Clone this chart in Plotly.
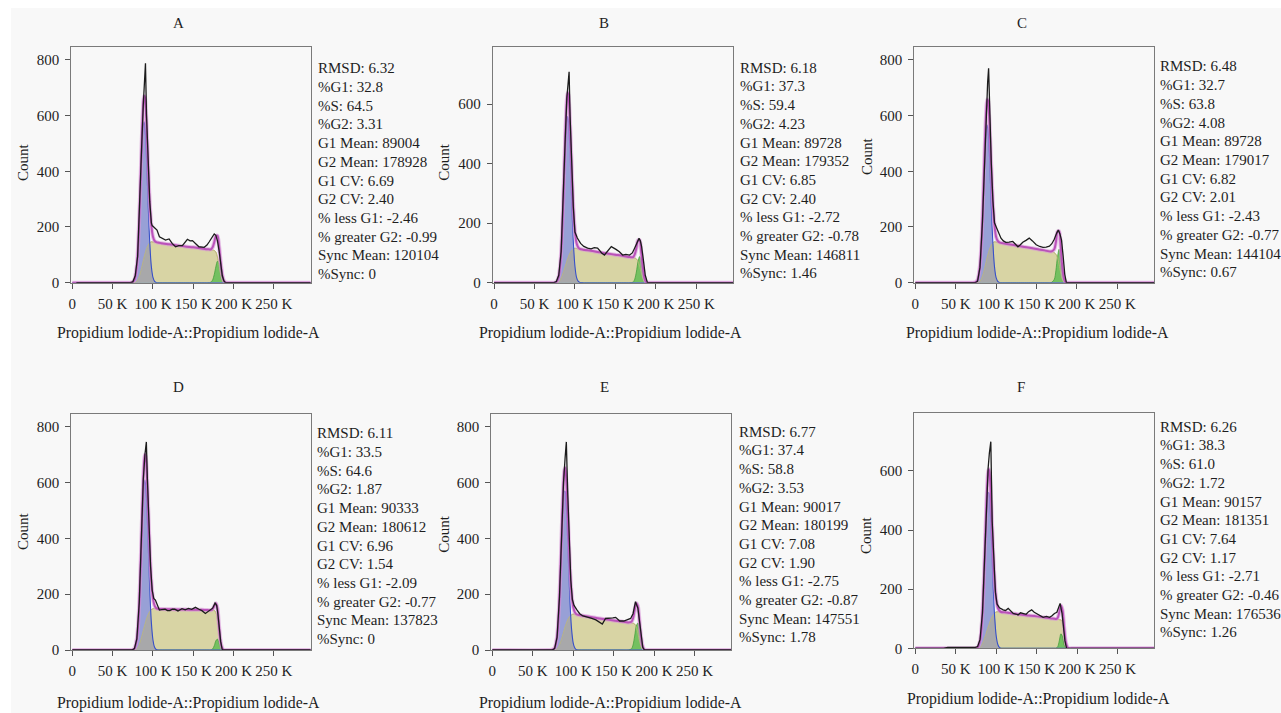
import numpy as np
import plotly.graph_objects as go

W, H = 1281, 713          # target picture size
H_FIG = 721               # the page is captured 721 px tall and fitted into 713
FONT = "Liberation Serif"

# ---------------- data (x in thousands of channel units) ----------------
x_grid = [0, 70, 74, 77, 80, 82, 84, 86, 87, 88, 89, 90, 91, 92, 94, 96, 98, 100, 102, 104,
          106, 110, 120, 130, 140, 150, 160, 168, 172, 174, 176, 178, 180, 182, 184, 186, 188, 190, 195, 296]

g1_A = [0, 0, 1, 10, 58, 144, 284, 448, 516, 562, 578, 562, 516, 448, 284, 144, 58, 19, 5, 1,
        0, 0, 0, 0, 0, 0, 0, 0, 0, 0, 0, 0, 0, 0, 0, 0, 0, 0, 0, 0]
g1_B = [0, 0, 0, 2, 18, 56, 139, 275, 355, 432, 498, 542, 558, 542, 432, 275, 139, 56, 18, 5,
        1, 0, 0, 0, 0, 0, 0, 0, 0, 0, 0, 0, 0, 0, 0, 0, 0, 0, 0, 0]
g1_C = [0, 0, 1, 10, 57, 141, 278, 439, 505, 550, 566, 550, 505, 439, 278, 141, 57, 18, 5, 1,
        0, 0, 0, 0, 0, 0, 0, 0, 0, 0, 0, 0, 0, 0, 0, 0, 0, 0, 0, 0]
g1_D = [0, 0, 0, 5, 36, 99, 220, 387, 472, 544, 592, 609, 592, 544, 387, 220, 99, 36, 10, 2,
        0, 0, 0, 0, 0, 0, 0, 0, 0, 0, 0, 0, 0, 0, 0, 0, 0, 0, 0, 0]
g1_E = [0, 0, 1, 7, 44, 116, 243, 405, 480, 537, 569, 569, 537, 480, 323, 173, 74, 25, 7, 1,
        0, 0, 0, 0, 0, 0, 0, 0, 0, 0, 0, 0, 0, 0, 0, 0, 0, 0, 0, 0]
g1_F = [0, 0, 0, 3, 23, 68, 160, 298, 375, 444, 497, 526, 526, 497, 375, 225, 108, 41, 13, 3,
        0, 0, 0, 0, 0, 0, 0, 0, 0, 0, 0, 0, 0, 0, 0, 0, 0, 0, 0, 0]

s_A = [0, 0, 0, 0, 5, 15, 32, 55, 67, 80, 92, 103, 113, 122, 135, 143, 147, 146, 145, 145,
       144, 142, 138, 134, 130, 127, 123, 120, 118, 117, 116, 110, 92, 62, 30, 10, 2, 0, 0, 0]
s_B = [0, 0, 0, 0, 3, 10, 22, 38, 46, 55, 63, 72, 80, 88, 100, 108, 113, 116, 115, 114,
       113, 111, 107, 102, 98, 94, 90, 86, 84, 83, 80, 72, 55, 33, 15, 4, 0, 0, 0, 0]
s_C = [0, 0, 0, 0, 5, 15, 32, 55, 67, 80, 92, 103, 113, 122, 135, 143, 147, 146, 145, 144,
       143, 141, 136, 131, 126, 121, 116, 112, 108, 102, 90, 65, 35, 12, 3, 0, 0, 0, 0, 0]
s_D = [0, 0, 0, 0, 4, 12, 28, 48, 59, 70, 81, 92, 102, 112, 127, 138, 145, 148, 149, 148,
       148, 147, 146, 145, 145, 144, 144, 143, 143, 143, 142, 135, 110, 60, 20, 5, 0, 0, 0, 0]
s_E = [0, 0, 0, 0, 4, 12, 26, 44, 54, 64, 74, 84, 92, 100, 113, 121, 126, 129, 128, 127,
       126, 124, 119, 114, 110, 106, 102, 99, 97, 96, 93, 82, 60, 32, 12, 3, 0, 0, 0, 0]
s_F = [0, 0, 0, 0, 3, 10, 22, 38, 46, 55, 63, 72, 80, 88, 102, 112, 119, 123, 124, 124,
       123, 122, 118, 114, 111, 108, 104, 101, 100, 99, 98, 97, 96, 90, 60, 20, 4, 0, 0, 0]

g2_A = [0] * 27 + [0, 2, 10, 29, 57, 77, 70, 43, 18, 5, 1, 0, 0]
g2_B = [0] * 27 + [0, 2, 12, 36, 70, 88, 70, 36, 12, 2, 0, 0, 0]
g2_C = [0] * 27 + [0, 12, 43, 93, 120, 93, 43, 12, 2, 0, 0, 0, 0]
g2_D = [0] * 27 + [0, 0, 4, 15, 33, 39, 24, 8, 1, 0, 0, 0, 0]
g2_E = [0] * 27 + [0, 4, 18, 50, 86, 97, 69, 32, 9, 2, 0, 0, 0]
g2_F = [0] * 27 + [0, 0, 0, 5, 25, 49, 39, 12, 2, 0, 0, 0, 0]

raw_x_A = [5, 72, 75, 78, 81, 84, 86, 88, 89.5, 90.7, 92, 94, 96, 98, 99, 101, 105, 108, 112, 115.6,
           120, 124, 128, 132, 136.5, 140, 142.7, 146, 149, 153, 157, 163.5, 167, 169.8, 173, 176,
           178, 180, 182, 184, 186, 188, 190, 296]
raw_y_A = [0, 0, 3, 25, 95, 300, 490, 640, 720, 788, 600, 420, 290, 215, 205, 200, 189, 165, 158, 153,
           157, 140, 129, 133, 133, 145, 156, 150, 151, 140, 129, 127, 135, 147, 160, 175,
           170, 150, 115, 60, 25, 6, 0, 0]
raw_x_B = [0, 74, 77, 80, 83, 86, 88, 90, 91.5, 92.8, 94, 96, 98, 100, 103, 107, 111, 115.7, 120, 124,
           128, 130, 133, 136.5, 140, 145, 150.8, 155, 159, 163, 167.6, 171, 173.8, 176.5, 179.3,
           181, 182.5, 184.5, 187, 189.7, 296]
raw_y_B = [0, 0, 4, 25, 105, 300, 480, 620, 680, 709, 560, 390, 255, 170, 150, 132, 122, 116, 114, 118,
           116, 110, 100, 93, 105, 121, 112, 104, 93, 95, 93, 100, 116, 135, 149,
           140, 121, 80, 25, 0, 0]
raw_x_C = [0, 74, 77, 80, 83, 86, 88, 89.5, 90.7, 92, 94, 96, 98, 100, 103, 106, 109, 112, 116, 120.6,
           124, 127, 130, 133, 137, 141, 145, 149.6, 154, 158, 162, 166, 169, 172, 175,
           177, 179, 181, 183, 185, 187, 296]
raw_y_C = [0, 0, 5, 55, 215, 480, 640, 720, 770, 590, 430, 295, 215, 201, 180, 160, 150, 145, 146, 148,
           138, 129, 136, 145, 152, 160, 150, 136, 130, 127, 128, 131, 140, 156, 178,
           189, 175, 153, 95, 30, 0, 0]
raw_x_D = [0, 74, 77, 80, 83, 86, 88, 90, 91.8, 93, 95, 97, 99, 101, 103, 105.5, 108, 111, 115, 118,
           121, 124, 127, 131, 136, 140, 144, 148, 152.7, 157, 160.7, 165, 168, 171, 174,
           177, 179, 180.5, 182, 184, 186, 296]
raw_y_D = [0, 0, 5, 40, 170, 430, 610, 700, 746, 620, 440, 300, 215, 185, 179, 160, 143, 145, 146, 141,
           141, 146, 146, 140, 148, 144, 149, 146, 153, 146, 141, 131, 138, 146, 150,
           168, 160, 130, 80, 30, 0, 0]
raw_x_E = [0, 74, 77, 80, 83, 86, 88, 90, 91.5, 93, 95, 97, 99, 101, 104.8, 108, 112, 117, 123, 128,
           132, 136, 140, 145, 149, 152.5, 157.5, 162.5, 167, 171, 174, 177, 180, 182, 184,
           186, 188, 296]
raw_y_E = [0, 0, 5, 45, 190, 440, 600, 690, 746, 580, 390, 250, 180, 160, 143, 130, 122, 119, 113, 108,
           100, 93, 113, 113, 115, 117, 104, 104, 108, 113, 130, 173, 150, 100, 45,
           10, 0, 0]
raw_x_F = [0, 35, 40, 74, 77, 80, 83, 86, 88, 90, 91.5, 93.3, 95, 97, 99, 101, 104, 108.6, 111.5, 114.8,
           118, 121, 124, 127, 130, 133, 137, 140, 143.8, 147, 150, 154, 158, 162, 166,
           169, 172, 175, 177, 179, 181.4, 183, 185, 187, 296]
raw_y_F = [0, 0, 3, 3, 6, 30, 120, 330, 500, 610, 660, 699, 430, 280, 190, 150, 137, 130, 128, 135,
           125, 118, 116, 113, 120, 118, 115, 124, 130, 122, 118, 112, 105, 108, 105,
           110, 118, 122, 135, 152, 118, 70, 25, 0, 0]

stat_labels = ["RMSD", "%G1", "%S", "%G2", "G1 Mean", "G2 Mean", "G1 CV", "G2 CV",
               "% less G1", "% greater G2", "Sync Mean", "%Sync"]
stats_A = ["6.32", "32.8", "64.5", "3.31", "89004", "178928", "6.69", "2.40", "-2.46", "-0.99", "120104", "0"]
stats_B = ["6.18", "37.3", "59.4", "4.23", "89728", "179352", "6.85", "2.40", "-2.72", "-0.78", "146811", "1.46"]
stats_C = ["6.48", "32.7", "63.8", "4.08", "89728", "179017", "6.82", "2.01", "-2.43", "-0.77", "144104", "0.67"]
stats_D = ["6.11", "33.5", "64.6", "1.87", "90333", "180612", "6.96", "1.54", "-2.09", "-0.77", "137823", "0"]
stats_E = ["6.77", "37.4", "58.8", "3.53", "90017", "180199", "7.08", "1.90", "-2.75", "-0.87", "147551", "1.78"]
stats_F = ["6.26", "38.3", "61.0", "1.72", "90157", "181351", "7.64", "1.17", "-2.71", "-0.46", "176536", "1.26"]

panel_titles = ["A", "B", "C", "D", "E", "F"]
y_max = [845, 791, 845, 846, 845, 795]
x_tickvals = [0, 50, 100, 150, 200, 250]
x_ticktext = ["0", "50 K", "100 K", "150 K", "200 K", "250 K"]
y_tickvals = [0, 200, 400, 600, 800]
x_title = "Propidium lodide-A::Propidium lodide-A"
y_title = "Count"

# ---------------- layout geometry (pixels of the target picture) ----------------
boxes = [(68.3, 308.3, 47.3, 282.7), (491, 731.7, 47.3, 282.7), (913.3, 1153.7, 47.3, 282.7),
         (68.3, 308.3, 414, 650), (489.3, 730, 414.3, 650), (913.3, 1154, 413.3, 648.3)]
title_pos = [(176, 23.3), (602.7, 23.3), (1021, 23.3), (176, 386.7), (603.3, 386.7), (1020, 386.7)]
count_pos = [(20, 162), (441.7, 162), (866, 156), (20, 531), (441.7, 534), (865, 535)]
xtitle_pos = [(186, 333), (609, 333), (1036.7, 333), (186, 703.3), (609.2, 703.3), (1037.5, 699.3)]
stats_pos = [(315, 68.3), (737.3, 67.7), (1159, 66.5), (313.3, 433.3), (736.7, 431.7), (1159, 426.7)]
LINE_STEP = 18.7
WHITE_BAND = 8

panels = [
    (g1_A, s_A, g2_A, raw_x_A, raw_y_A, stats_A),
    (g1_B, s_B, g2_B, raw_x_B, raw_y_B, stats_B),
    (g1_C, s_C, g2_C, raw_x_C, raw_y_C, stats_C),
    (g1_D, s_D, g2_D, raw_x_D, raw_y_D, stats_D),
    (g1_E, s_E, g2_E, raw_x_E, raw_y_E, stats_E),
    (g1_F, s_F, g2_F, raw_x_F, raw_y_F, stats_F),
]

C_BG = "#f8f8f8"
C_YEL = "rgb(216,212,164)"
C_BLUE = "rgb(152,160,214)"
C_GRAY = "rgb(168,168,170)"
C_GREEN = "rgb(116,192,96)"
C_MAG = "rgb(186,82,186)"
C_TEXT = "#1e1e1e"

fig = go.Figure()
annotations = []


def px_x(v):
    return v / W


def px_y(v):
    return 1 - v / H


def ann(text, xp, yp, size=15, xanchor="center", angle=0):
    return dict(text=text, x=px_x(xp), y=px_y(yp), xref="paper", yref="paper",
                showarrow=False, xanchor=xanchor, yanchor="middle", textangle=angle,
                font=dict(family=FONT, size=size, color=C_TEXT), borderpad=0)


SPL = dict(shape="spline", smoothing=0.8)

for i, (g1, s, g2, rx, ry, st) in enumerate(panels):
    n = "" if i == 0 else str(i + 1)
    xa, ya = "x" + n, "y" + n
    g1a, sa, g2a = np.array(g1, float), np.array(s, float), np.array(g2, float)
    overlap = np.minimum(g1a, sa)
    fit = g1a + sa + g2a
    common = dict(xaxis=xa, yaxis=ya, showlegend=False, hoverinfo="skip")

    fig.add_trace(go.Scatter(x=x_grid, y=sa, mode="lines", fill="tozeroy", fillcolor=C_YEL,
                             line=dict(color="rgb(190,184,120)", width=0.8, **SPL), **common))
    fig.add_trace(go.Scatter(x=x_grid, y=g2a, mode="lines", fill="tozeroy", fillcolor=C_GREEN,
                             line=dict(color="rgb(70,160,60)", width=0.8, **SPL), **common))
    fig.add_trace(go.Scatter(x=x_grid, y=g1a, mode="lines", fill="tozeroy", fillcolor=C_BLUE,
                             line=dict(color="rgb(60,85,200)", width=0, **SPL), **common))
    fig.add_trace(go.Scatter(x=x_grid, y=overlap, mode="lines", fill="tozeroy", fillcolor=C_GRAY,
                             line=dict(color=C_GRAY, width=0, **SPL), **common))
    fig.add_trace(go.Scatter(x=x_grid, y=sa, mode="lines",
                             line=dict(color="rgb(190,184,120)", width=0.8, **SPL), **common))
    fig.add_trace(go.Scatter(x=x_grid, y=g1a, mode="lines",
                             line=dict(color="rgb(55,80,200)", width=1.1, **SPL), **common))
    fig.add_trace(go.Scatter(x=x_grid, y=fit, mode="lines",
                             line=dict(color="rgba(215,150,215,0.6)", width=4, **SPL), **common))
    fig.add_trace(go.Scatter(x=x_grid, y=fit, mode="lines",
                             line=dict(color=C_MAG, width=2, **SPL), **common))
    fig.add_trace(go.Scatter(x=rx, y=ry, mode="lines",
                             line=dict(color="#1c1c1c", width=1.3), **common))

    L, R, T, B = boxes[i]
    axis_font = dict(family=FONT, size=15, color=C_TEXT)
    fig.update_layout(**{
        "xaxis" + n: dict(domain=[px_x(L), px_x(R)], range=[-1.5, 295.5], anchor=ya,
                          tickvals=x_tickvals, ticktext=x_ticktext, ticks="outside", ticklen=5,
                          tickcolor="#555", tickwidth=1, showline=True, linecolor="#7a7a7a",
                          linewidth=1, mirror=True, showgrid=False, zeroline=False,
                          tickfont=axis_font, ticklabelstandoff=2, fixedrange=True),
        "yaxis" + n: dict(domain=[px_y(B), px_y(T)], range=[0, y_max[i]], anchor=xa,
                          tickvals=y_tickvals, ticks="outside", ticklen=5, tickcolor="#555",
                          tickwidth=1, showline=True, linecolor="#7a7a7a", linewidth=1,
                          mirror=True, showgrid=False, zeroline=False, tickfont=axis_font,
                          ticklabelstandoff=3, fixedrange=True),
    })

    tx, ty = title_pos[i]
    annotations.append(ann(panel_titles[i], tx, ty, size=15))
    cx, cy = count_pos[i]
    annotations.append(ann(y_title, cx, cy, size=15, angle=-90))
    xx, xy = xtitle_pos[i]
    annotations.append(ann(x_title, xx, xy, size=15.8))
    sx, sy = stats_pos[i]
    for k, (lab, val) in enumerate(zip(stat_labels, st)):
        annotations.append(ann(f"{lab}: {val}", sx, sy + k * LINE_STEP, size=15, xanchor="left"))

# light-grey sheet with a thin white band along the top and left edges
fig.add_shape(type="rect", xref="paper", yref="paper", layer="below",
              x0=px_x(WHITE_BAND), x1=1, y0=0, y1=px_y(WHITE_BAND),
              fillcolor=C_BG, line=dict(width=0))

fig.update_layout(width=W, height=H_FIG, margin=dict(l=0, r=0, t=0, b=0),
                  paper_bgcolor="#ffffff", plot_bgcolor=C_BG,
                  annotations=annotations, showlegend=False)

page_reset = ("document.documentElement.style.margin='0';"
              "document.documentElement.style.overflow='hidden';"
              "document.body.style.margin='0';"
              "document.body.style.overflow='hidden';")

fig.write_html("out.html", post_script=page_reset, config={"displayModeBar": False})
